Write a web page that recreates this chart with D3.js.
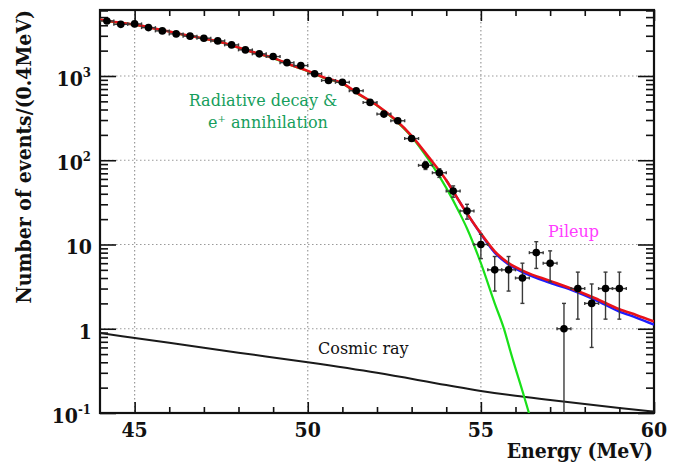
<!DOCTYPE html>
<html>
<head>
<meta charset="utf-8">
<script src="https://cdn.jsdelivr.net/npm/d3@7"></script>
<style>
  html, body { margin: 0; padding: 0; background: #fff; }
  svg { display: block; }
  .bold-serif { font-family: "DejaVu Serif Condensed", "DejaVu Serif", serif; font-weight: bold; font-stretch: condensed; fill: #111; }
  .note { font-family: "DejaVu Serif", serif; font-size: 16px; }
</style>
</head>
<body>
<svg id="chart" width="679" height="468"></svg>
<script>
// Measured spectrum: bin centres (MeV), counts per 0.4 MeV bin and their errors
const binCenters = [44.2, 44.6, 45.0, 45.4, 45.8, 46.2, 46.6, 47.0, 47.4, 47.8,
                    48.2, 48.6, 49.0, 49.4, 49.8, 50.2, 50.6, 51.0, 51.4, 51.8,
                    52.2, 52.6, 53.0, 53.4, 53.8, 54.2, 54.6, 55.0, 55.4, 55.8,
                    56.2, 56.6, 57.0, 57.4, 57.8, 58.2, 58.6, 59.0];
const counts = [4500, 4100, 4150, 3750, 3430, 3160, 2970, 2810, 2610, 2340,
                2040, 1830, 1700, 1440, 1330, 1065, 885, 841, 668, 486,
                353, 294, 181, 87, 71, 43, 25, 10, 5, 5,
                4, 8, 6, 1, 3, 2, 3, 3];
const countErrors = [67, 64, 64, 61, 59, 56, 54, 53, 51, 48,
                     45, 43, 41, 38, 36, 33, 30, 29, 26, 22,
                     19, 17, 13, 9.3, 8.4, 6.6, 5, 3.2, 2.2, 2.2,
                     2, 2.8, 2.4, 1, 1.7, 1.4, 1.7, 1.7];
const binHalfWidth = 0.2;

// Fitted components
const totalE = [44.0, 44.5, 45.0, 45.5, 46.0, 46.5, 47.0, 47.5, 48.0, 48.5, 49.0, 49.5, 50.0, 50.5,
                51.0, 51.5, 52.0, 52.5, 53.0, 53.5, 54.0, 54.5, 55.0, 55.4, 55.8, 56.3, 57.0, 57.7,
                58.3, 59.0, 59.5, 60.0];
const totalFit = [4650, 4330, 4080, 3720, 3380, 3050, 2780, 2520, 2180, 1880, 1640, 1360, 1150, 950,
                  820, 600, 450, 310, 195, 108, 58, 27, 13.5, 8.3, 6.0, 4.7, 3.7, 2.9,
                  2.3, 1.7, 1.45, 1.22];
const altTotalE = [54.0, 54.5, 55.0, 55.4, 55.8, 56.3, 57.0, 57.7, 58.3, 59.0, 59.5, 60.0];
const altTotalFit = [58, 27, 13.3, 8.0, 5.8, 4.5, 3.5, 2.8, 2.2, 1.6, 1.35, 1.12];
const rmdE = [44.0, 44.5, 45.0, 45.5, 46.0, 46.5, 47.0, 47.5, 48.0, 48.5, 49.0, 49.5, 50.0, 50.5,
              51.0, 51.5, 52.0, 52.5, 53.0, 53.5, 54.0, 54.4, 54.6, 55.0, 55.4, 55.67, 55.87, 56.25, 56.5];
const rmdFit = [4640, 4320, 4070, 3710, 3370, 3040, 2770, 2510, 2170, 1870, 1630, 1350, 1140, 940,
                810, 594, 445, 305, 190, 100, 47, 23, 15.5, 6.0, 2.0, 0.99, 0.51, 0.156, 0.07];
const cosmicE = [44, 46, 48, 50, 52, 54, 55, 56, 57, 58, 59, 60];
const cosmicFit = [0.89, 0.68, 0.52, 0.40, 0.30, 0.215, 0.183, 0.16, 0.143, 0.128, 0.115, 0.104];

// Axis ticks and labels
const xMajorTicks = [45, 50, 55, 60];
const xTickLabels = ["45", "50", "55", "60"];
const yMajorTicks = [0.1, 1, 10, 100, 1000];
const yTickLabels = [["10", "-1"], ["1", ""], ["10", ""], ["10", "2"], ["10", "3"]];

const plot = { left: 100, right: 654, top: 10, bottom: 413 };
const svg = d3.select("#chart");

const x = d3.scaleLinear().domain([44, 60]).range([plot.left, plot.right]);
const y = d3.scaleLog().domain([0.1, 6070]).range([plot.bottom, plot.top]);

svg.append("defs").append("clipPath").attr("id", "plot-clip")
  .append("rect").attr("x", plot.left).attr("y", plot.top)
  .attr("width", plot.right - plot.left).attr("height", plot.bottom - plot.top);

// Dotted grid at major ticks
const grid = svg.append("g").attr("stroke", "#9a9a9a").attr("stroke-width", 1.2)
  .attr("stroke-dasharray", "1.5,2.5");
xMajorTicks.filter(v => v < 60).forEach(v => {
  grid.append("line").attr("x1", x(v)).attr("x2", x(v)).attr("y1", plot.top).attr("y2", plot.bottom);
});
yMajorTicks.filter(v => v > 0.1).forEach(v => {
  grid.append("line").attr("x1", plot.left).attr("x2", plot.right).attr("y1", y(v)).attr("y2", y(v));
});

// Tick marks on all four sides (inward)
const xMinor = d3.range(45, 60).filter(v => !xMajorTicks.includes(v));
const yMinor = [];
[0.1, 1, 10, 100, 1000].forEach(d => d3.range(2, 10).forEach(m => { if (d * m < 6070) yMinor.push(d * m); }));

function axisPair(axisFn, scale, values, size, transform) {
  const g = svg.append("g").attr("transform", transform)
    .call(axisFn(scale).tickValues(values).tickSize(size).tickSizeOuter(0).tickFormat(""));
  g.select(".domain").remove();
  g.selectAll(".tick line").attr("stroke", "#111").attr("stroke-width", 1.6);
}
axisPair(d3.axisBottom, x, xMajorTicks, -11, `translate(0,${plot.bottom})`);
axisPair(d3.axisBottom, x, xMinor, -6, `translate(0,${plot.bottom})`);
axisPair(d3.axisTop, x, xMajorTicks, -11, `translate(0,${plot.top})`);
axisPair(d3.axisTop, x, xMinor, -6, `translate(0,${plot.top})`);
axisPair(d3.axisLeft, y, yMajorTicks, -16, `translate(${plot.left},0)`);
axisPair(d3.axisLeft, y, yMinor, -8, `translate(${plot.left},0)`);
axisPair(d3.axisRight, y, yMajorTicks, -16, `translate(${plot.right},0)`);
axisPair(d3.axisRight, y, yMinor, -8, `translate(${plot.right},0)`);

// Frame
svg.append("rect").attr("x", plot.left).attr("y", plot.top)
  .attr("width", plot.right - plot.left).attr("height", plot.bottom - plot.top)
  .attr("fill", "none").attr("stroke", "#111").attr("stroke-width", 2.2);

// Fitted curves
const curves = svg.append("g").attr("clip-path", "url(#plot-clip)").attr("fill", "none");
const lineGen = d3.line().x(d => x(d[0])).y(d => y(d[1])).curve(d3.curveMonotoneX);
const zipPts = (es, vs) => es.map((e, i) => [e, vs[i]]);

curves.append("path").attr("d", lineGen(zipPts(cosmicE, cosmicFit)))
  .attr("stroke", "#1a1a1a").attr("stroke-width", 2);
curves.append("path").attr("d", lineGen(zipPts(rmdE, rmdFit)))
  .attr("stroke", "#19e019").attr("stroke-width", 2.2);
curves.append("path").attr("d", lineGen(zipPts(altTotalE, altTotalFit)))
  .attr("stroke", "#1d1dff").attr("stroke-width", 2.4);
curves.append("path").attr("d", lineGen(zipPts(totalE, totalFit)))
  .attr("stroke", "#e8121a").attr("stroke-width", 2.6);

// Data points with error bars
const pts = binCenters.map((e, i) => ({ e, n: counts[i], err: countErrors[i] }));
const errG = svg.append("g").attr("clip-path", "url(#plot-clip)")
  .attr("stroke", "#3a3a3a").attr("stroke-width", 1.4);
pts.forEach(p => {
  const cx = x(p.e), cy = y(p.n);
  const lo = p.n - p.err > 0 ? y(p.n - p.err) : plot.bottom;
  const hi = y(p.n + p.err);
  errG.append("line").attr("x1", cx).attr("x2", cx).attr("y1", hi).attr("y2", lo);
  errG.append("line").attr("x1", cx - 2).attr("x2", cx + 2).attr("y1", hi).attr("y2", hi);
  if (lo < plot.bottom) errG.append("line").attr("x1", cx - 2).attr("x2", cx + 2).attr("y1", lo).attr("y2", lo);
  const xl = x(p.e - binHalfWidth), xr = x(p.e + binHalfWidth);
  errG.append("line").attr("x1", xl).attr("x2", xr).attr("y1", cy).attr("y2", cy);
  errG.append("line").attr("x1", xl).attr("x2", xl).attr("y1", cy - 1.5).attr("y2", cy + 1.5);
  errG.append("line").attr("x1", xr).attr("x2", xr).attr("y1", cy - 1.5).attr("y2", cy + 1.5);
});
svg.append("g").selectAll("circle").data(pts).join("circle")
  .attr("cx", d => x(d.e)).attr("cy", d => y(d.n)).attr("r", 3.8).attr("fill", "#000");

// Tick labels
xMajorTicks.forEach((v, i) => {
  svg.append("text").attr("class", "bold-serif").attr("x", x(v)).attr("y", 437)
    .attr("text-anchor", "middle").attr("font-size", 21).text(xTickLabels[i]);
});
yMajorTicks.forEach((v, i) => {
  const [base, exp] = yTickLabels[i];
  const t = svg.append("text").attr("class", "bold-serif").attr("text-anchor", "end")
    .attr("font-size", 21).attr("y", y(v) + 10);
  if (exp) {
    t.attr("x", 91);
    t.append("tspan").text(base);
    t.append("tspan").attr("font-size", 13).attr("dy", -9).text(exp);
  } else {
    t.attr("x", 92).text(base);
  }
});

// Axis titles
svg.append("text").attr("class", "bold-serif").attr("font-size", 21)
  .attr("text-anchor", "end").attr("x", 653).attr("y", 458).text("Energy (MeV)");
svg.append("text").attr("class", "bold-serif").attr("font-size", 21)
  .attr("text-anchor", "end").attr("transform", "translate(31,10) rotate(-90)")
  .text("Number of events/(0.4MeV)");

// Component annotations
svg.append("text").attr("class", "note").attr("fill", "#169e5c")
  .attr("x", 263).attr("y", 106).attr("text-anchor", "middle").text("Radiative decay &");
const ann = svg.append("text").attr("class", "note").attr("fill", "#169e5c")
  .attr("x", 268).attr("y", 128).attr("text-anchor", "middle");
ann.append("tspan").text("e");
ann.append("tspan").attr("font-size", 10).attr("dy", -6).text("+");
ann.append("tspan").attr("dy", 6).text(" annihilation");
svg.append("text").attr("class", "note").attr("fill", "#ff3cff")
  .attr("x", 548).attr("y", 237).text("Pileup");
svg.append("text").attr("class", "note").attr("fill", "#111")
  .attr("x", 318).attr("y", 354).text("Cosmic ray");
</script>
</body>
</html>
